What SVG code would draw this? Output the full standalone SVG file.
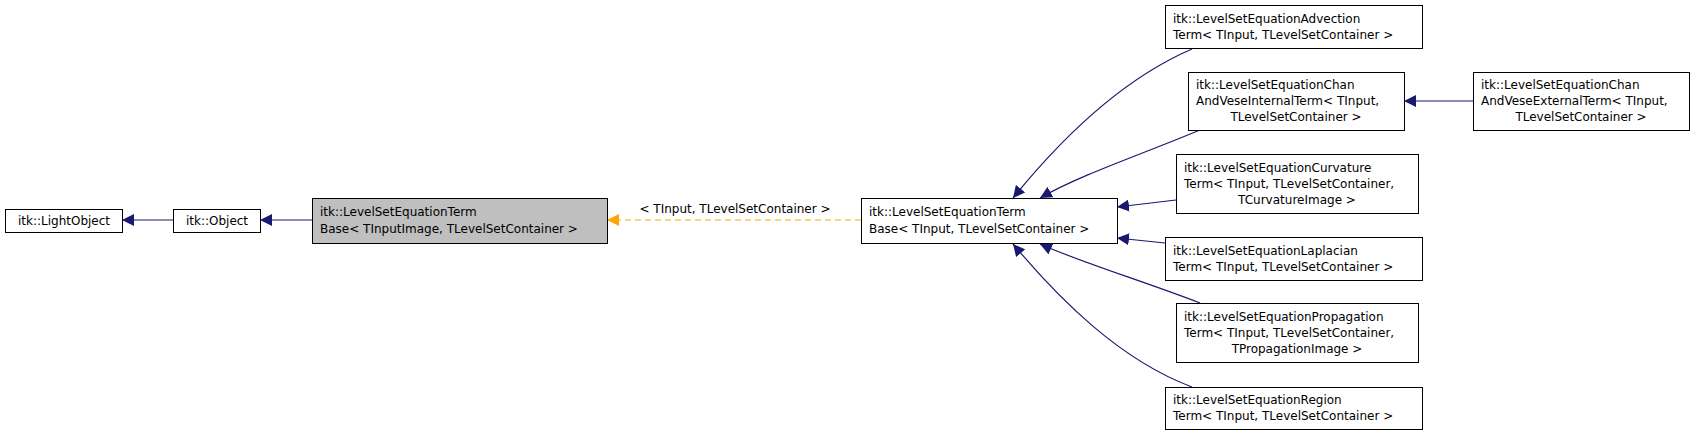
<svg xmlns="http://www.w3.org/2000/svg" width="1699" height="435" viewBox="0 0 1699 435">
<style>
.n rect{fill:#fff;stroke:#000;stroke-width:1}
.g rect{fill:#bfbfbf}
text{font-family:"DejaVu Sans",sans-serif;font-size:12px;fill:#000}
.e{fill:none;stroke:#191970;stroke-width:1.2;marker-end:url(#a)}
.d{fill:none;stroke:#ffa500;stroke-width:1.2;stroke-dasharray:6,4;marker-end:url(#o)}
</style>
<defs>
<marker id="a" viewBox="0 0 10 10" refX="10" refY="5" markerWidth="12" markerHeight="12" markerUnits="userSpaceOnUse" orient="auto"><path d="M0,0L10,5L0,10z" fill="#191970"/></marker>
<marker id="o" viewBox="0 0 10 10" refX="10" refY="5" markerWidth="12" markerHeight="12" markerUnits="userSpaceOnUse" orient="auto"><path d="M0,0L10,5L0,10z" fill="#ffa500"/></marker>
</defs>
<g id="edges">
<path class="e" d="M173,220H122"/>
<path class="e" d="M312,220H260"/>
<path class="d" d="M861,220H607"/>
<text x="735" y="213" text-anchor="middle">&lt; TInput, TLevelSetContainer &gt;</text>
<path class="e" d="M1192,49C1120,80 1060,140 1013,198"/>
<path class="e" d="M1200,130C1140,155 1080,175 1040,198"/>
<path class="e" d="M1176,200L1117,207"/>
<path class="e" d="M1165,243L1117,238"/>
<path class="e" d="M1200,303C1140,280 1080,262 1040,244"/>
<path class="e" d="M1192,387C1120,360 1060,300 1013,244"/>
<path class="e" d="M1473,101H1404"/>
</g>
<g id="lightobject" class="n"><rect x="5.5" y="209.5" width="117" height="23"/><text x="64" y="225" text-anchor="middle">itk::LightObject</text></g>
<g id="object" class="n"><rect x="173.5" y="209.5" width="87" height="23"/><text x="217" y="225" text-anchor="middle">itk::Object</text></g>
<g id="termbase" class="n g"><rect x="312.5" y="198.5" width="295" height="45"/><text x="320" y="216">itk::LevelSetEquationTerm</text><text x="320" y="233">Base&lt; TInputImage, TLevelSetContainer &gt;</text></g>
<g id="termbase2" class="n"><rect x="861.5" y="198.5" width="256" height="45"/><text x="869" y="216">itk::LevelSetEquationTerm</text><text x="869" y="233">Base&lt; TInput, TLevelSetContainer &gt;</text></g>
<g id="advection" class="n"><rect x="1165.5" y="5.5" width="257" height="43"/><text x="1173" y="23">itk::LevelSetEquationAdvection</text><text x="1173" y="39">Term&lt; TInput, TLevelSetContainer &gt;</text></g>
<g id="chanint" class="n"><rect x="1188.5" y="72.5" width="216" height="58"/><text x="1196" y="89">itk::LevelSetEquationChan</text><text x="1196" y="105">AndVeseInternalTerm&lt; TInput,</text><text x="1296" y="121" text-anchor="middle">TLevelSetContainer &gt;</text></g>
<g id="chanext" class="n"><rect x="1473.5" y="72.5" width="216" height="58"/><text x="1481" y="89">itk::LevelSetEquationChan</text><text x="1481" y="105">AndVeseExternalTerm&lt; TInput,</text><text x="1581" y="121" text-anchor="middle">TLevelSetContainer &gt;</text></g>
<g id="curvature" class="n"><rect x="1176.5" y="154.5" width="242" height="59"/><text x="1184" y="172">itk::LevelSetEquationCurvature</text><text x="1184" y="188">Term&lt; TInput, TLevelSetContainer,</text><text x="1297" y="204" text-anchor="middle">TCurvatureImage &gt;</text></g>
<g id="laplacian" class="n"><rect x="1165.5" y="237.5" width="257" height="43"/><text x="1173" y="255">itk::LevelSetEquationLaplacian</text><text x="1173" y="271">Term&lt; TInput, TLevelSetContainer &gt;</text></g>
<g id="propagation" class="n"><rect x="1176.5" y="303.5" width="242" height="59"/><text x="1184" y="321">itk::LevelSetEquationPropagation</text><text x="1184" y="337">Term&lt; TInput, TLevelSetContainer,</text><text x="1297" y="353" text-anchor="middle">TPropagationImage &gt;</text></g>
<g id="region" class="n"><rect x="1165.5" y="387.5" width="257" height="42"/><text x="1173" y="404">itk::LevelSetEquationRegion</text><text x="1173" y="420">Term&lt; TInput, TLevelSetContainer &gt;</text></g>
</svg>
